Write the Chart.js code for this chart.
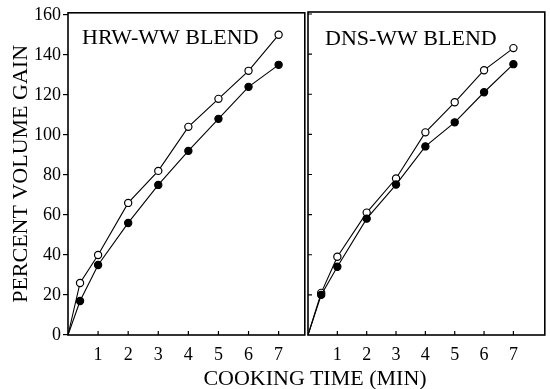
<!DOCTYPE html>
<html><head><meta charset="utf-8">
<script src="https://cdn.jsdelivr.net/npm/chart.js@4/dist/chart.umd.min.js"></script>
<style>
html,body{margin:0;padding:0;background:#fff;}
#wrap{position:relative;width:550px;height:389px;overflow:hidden;background:#fff;}
#c1{position:absolute;left:0;top:0;}
#c2{position:absolute;left:300px;top:0;}
#xt{position:absolute;left:80px;width:470px;top:366px;text-align:center;font-family:"Liberation Serif",serif;font-size:22px;line-height:24px;color:#000;}
</style></head><body>
<div id="wrap">
<canvas id="c1" width="310" height="389"></canvas>
<canvas id="c2" width="250" height="389"></canvas>
<div id="xt">COOKING TIME (MIN)</div>
</div>
<script>
// ---- data ----
const panelTitles = ["HRW-WW BLEND", "DNS-WW BLEND"];
const hrwTimes = [0, 0.4, 1, 2, 3, 4, 5, 6, 7];
const hrwOpen = [0, 26, 40, 66, 82, 104, 118, 132, 150];
const hrwFilled = [0, 17, 35, 56, 75, 92, 108, 124, 135];
const dnsTimes = [0, 0.45, 1, 2, 3, 4, 5, 6, 7];
const dnsOpen = [0, 21, 39, 61, 78, 101, 116, 132, 143];
const dnsFilled = [0, 20, 34, 58, 75, 94, 106, 121, 135];
const xTickValues = [1, 2, 3, 4, 5, 6, 7];
const yTickValues = [0, 20, 40, 60, 80, 100, 120, 140, 160];
const yTitle = "PERCENT VOLUME GAIN";

const FONT = '"Liberation Serif", serif';

function pts(xs, ys) { return xs.map((x, i) => ({x: x, y: ys[i]})); }

function ds(xs, ys, open) {
  return {
    data: pts(xs, ys),
    borderColor: '#000',
    borderWidth: 1.1,
    backgroundColor: open ? '#fff' : '#000',
    pointBackgroundColor: open ? '#fff' : '#000',
    pointBorderColor: '#000',
    pointBorderWidth: 1.2,
    pointRadius: c => (c.parsed && c.parsed.x === 0) ? 0 : 3.6,
    tension: 0,
    clip: false
  };
}

const framePlugin = {
  id: 'frame',
  afterDraw(chart, args, opts) {
    const ctx = chart.ctx, a = chart.chartArea;
    const x = chart.scales.x, y = chart.scales.y;
    ctx.save();
    ctx.strokeStyle = '#000';
    ctx.lineWidth = 1.6;
    ctx.strokeRect(a.left, a.top, a.right - a.left, a.bottom - a.top);
    ctx.lineWidth = 1.2;
    ctx.beginPath();
    xTickValues.forEach(v => {
      const px = x.getPixelForValue(v);
      ctx.moveTo(px, a.bottom); ctx.lineTo(px, a.bottom - 4);
    });
    if (opts.innerY) {
      yTickValues.forEach(v => {
        if (v === 0) return;
        const py = y.getPixelForValue(v);
        ctx.moveTo(a.left, py); ctx.lineTo(a.left + 4, py);
      });
    }
    ctx.stroke();
    ctx.fillStyle = '#000';
    ctx.font = '22px ' + FONT;
    ctx.textBaseline = 'alphabetic';
    ctx.textAlign = 'left';
    ctx.fillText(opts.title, a.left + opts.tx, a.top + opts.ty);
    ctx.restore();
  }
};

function makeChart(id, xs, open, filled, cfg) {
  return new Chart(document.getElementById(id), {
    type: 'line',
    data: { datasets: [ds(xs, filled, false), ds(xs, open, true)] },
    options: {
      responsive: false,
      devicePixelRatio: 1,
      animation: false,
      layout: { padding: { top: 12, right: 2, left: cfg.padLeft, bottom: 0 } },
      plugins: {
        legend: { display: false },
        tooltip: { enabled: false },
        frame: { title: cfg.title, tx: cfg.tx, ty: cfg.ty, innerY: cfg.innerY }
      },
      scales: {
        x: {
          type: 'linear', min: 0, max: cfg.xmax,
          afterBuildTicks: s => { s.ticks = xTickValues.map(v => ({value: v})); },
          afterFit: s => { s.height = 54; },
          grid: { display: false },
          border: { display: false },
          ticks: { color: '#000', font: { family: FONT, size: 18 }, padding: 1, maxRotation: 0, autoSkip: false }
        },
        y: {
          type: 'linear', min: 0, max: 161,
          display: cfg.showY,
          afterBuildTicks: s => { s.ticks = yTickValues.map(v => ({value: v})); },
          afterFit: s => { s.width = cfg.showY ? 68 : 0; },
          grid: { display: true, drawOnChartArea: false, drawTicks: true, tickLength: 5, color: '#000', lineWidth: 1.2 },
          border: { display: false },
          ticks: { color: '#000', font: { family: FONT, size: 18 }, padding: 2, autoSkip: false },
          title: { display: cfg.showY, text: yTitle, color: '#000', font: { family: FONT, size: 22 }, padding: { top: 8, bottom: 0 } }
        }
      }
    },
    plugins: [framePlugin]
  });
}

makeChart('c1', hrwTimes, hrwOpen, hrwFilled, { xmax: 7.87, padLeft: 0, showY: true, innerY: false, title: panelTitles[0], tx: 14, ty: 31 });
makeChart('c2', dnsTimes, dnsOpen, dnsFilled, { xmax: 8.07, padLeft: 8, showY: false, innerY: true, title: panelTitles[1], tx: 17, ty: 33 });
</script>
</body></html>
